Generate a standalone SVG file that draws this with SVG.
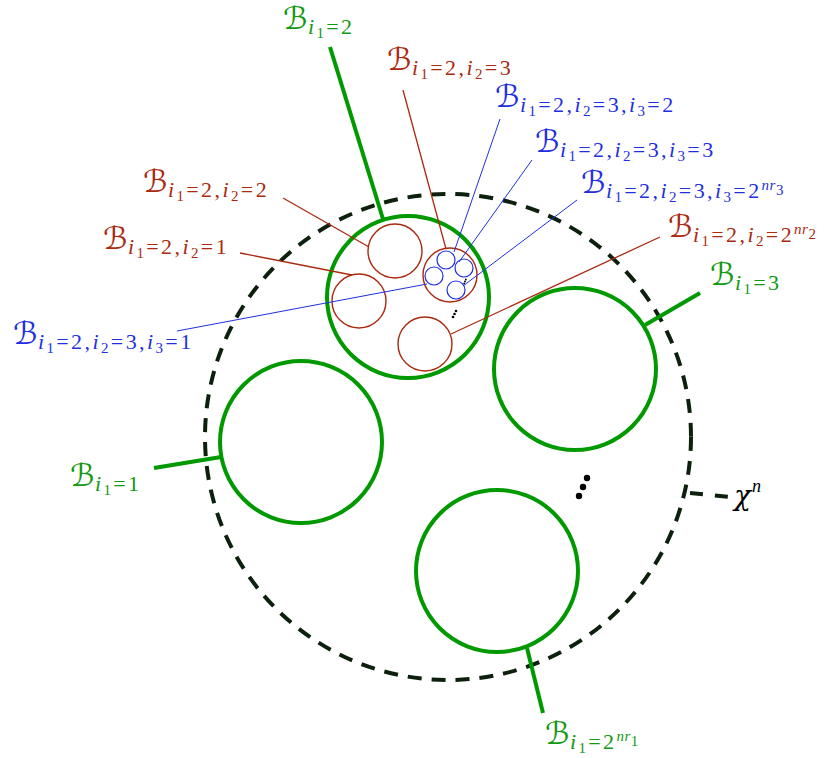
<svg xmlns="http://www.w3.org/2000/svg" width="839" height="758" viewBox="0 0 839 758">
<style>
.lab{font-family:"Liberation Serif","Times New Roman",serif;letter-spacing:2.4px}
.cal{font-family:"DejaVu Serif","DejaVu Sans",serif;font-size:31px;letter-spacing:0.5px}
.sb{font-size:22px;font-style:italic}
.sn{font-size:22px;font-style:normal}
.ss{font-size:15px;font-style:normal}
.sup{font-size:15px;font-style:italic;letter-spacing:0.5px}
.g{fill:#119911}.r{fill:#aa2a10}.b{fill:#1f2fe0}
.gc{fill:none;stroke:#009900;stroke-width:4}
.rc{fill:none;stroke:#aa2a10;stroke-width:1.4}
.bc{fill:none;stroke:#1f2fe0;stroke-width:1.2}
.gl{stroke:#009900;stroke-width:4;fill:none}
.rl{stroke:#aa2a10;stroke-width:1.3;fill:none}
.bl{stroke:#1f2fe0;stroke-width:1;fill:none}
.dash{fill:none;stroke:#0d200d;stroke-width:4;stroke-dasharray:14 10}
</style>
<g id="space">
<circle class="dash" cx="448" cy="437" r="243"/>
</g>
<g id="dots">
<circle cx="587" cy="478" r="3.2" fill="#000"/>
<circle cx="583" cy="487" r="3.2" fill="#000"/>
<circle cx="579" cy="496" r="3.2" fill="#000"/>
<circle cx="456" cy="311" r="1.3" fill="#000"/>
<circle cx="454.5" cy="314" r="1.3" fill="#000"/>
<circle cx="453" cy="317" r="1.3" fill="#000"/>
<circle cx="465.8" cy="279.5" r="0.9" fill="#000"/>
<circle cx="465" cy="281.5" r="0.9" fill="#000"/>
<circle cx="464.2" cy="283.5" r="0.9" fill="#000"/>
</g>
<g id="B1"><circle class="gc" cx="301" cy="442" r="81"/></g>
<g id="B2"><circle class="gc" cx="408" cy="297" r="81"/></g>
<g id="B3"><circle class="gc" cx="575" cy="369" r="81"/></g>
<g id="BN"><circle class="gc" cx="497" cy="571" r="81"/></g>
<g id="B21"><circle class="rc" cx="359" cy="301" r="27"/></g>
<g id="B22"><circle class="rc" cx="395" cy="251" r="27"/></g>
<g id="B23"><circle class="rc" cx="450" cy="275" r="27"/></g>
<g id="B2N"><circle class="rc" cx="425" cy="344" r="27"/></g>
<g id="B231"><circle class="bc" cx="434" cy="276" r="9"/></g>
<g id="B232"><circle class="bc" cx="446" cy="260" r="9"/></g>
<g id="B233"><circle class="bc" cx="464" cy="268" r="9"/></g>
<g id="B23N"><circle class="bc" cx="456" cy="290" r="9"/></g>
<g id="connectors">
<line class="gl" x1="330" y1="47" x2="383" y2="219"/>
<line class="gl" x1="700" y1="293" x2="645" y2="325"/>
<line class="gl" x1="154" y1="468" x2="221" y2="457"/>
<line class="gl" x1="543" y1="713" x2="527" y2="648"/>
<line class="rl" x1="403" y1="90" x2="446" y2="249"/>
<line class="rl" x1="283" y1="198" x2="369" y2="247"/>
<line class="rl" x1="240" y1="253" x2="352" y2="275"/>
<line class="rl" x1="660" y1="237" x2="451" y2="334"/>
<line class="bl" x1="500" y1="119" x2="454" y2="252"/>
<line class="bl" x1="532" y1="160" x2="459" y2="262"/>
<line class="bl" x1="577" y1="200" x2="463" y2="286"/>
<line class="bl" x1="177" y1="331" x2="427" y2="284"/>
<line x1="690" y1="493" x2="730" y2="497" fill="none" stroke="#0d200d" stroke-width="4" stroke-dasharray="13 12"/>
</g>
<g id="labels">
<text class="lab g" x="283" y="29"><tspan class="cal">ℬ</tspan><tspan class="sb" y="34">i</tspan><tspan class="ss" y="38">1</tspan><tspan class="sn" y="34">=2</tspan></text>
<text class="lab r" x="387" y="70"><tspan class="cal">ℬ</tspan><tspan class="sb" y="75">i</tspan><tspan class="ss" y="79">1</tspan><tspan class="sn" y="75">=2,</tspan><tspan class="sb" y="75">i</tspan><tspan class="ss" y="79">2</tspan><tspan class="sn" y="75">=3</tspan></text>
<text class="lab b" x="495" y="107"><tspan class="cal">ℬ</tspan><tspan class="sb" y="112">i</tspan><tspan class="ss" y="116">1</tspan><tspan class="sn" y="112">=2,</tspan><tspan class="sb" y="112">i</tspan><tspan class="ss" y="116">2</tspan><tspan class="sn" y="112">=3,</tspan><tspan class="sb" y="112">i</tspan><tspan class="ss" y="116">3</tspan><tspan class="sn" y="112">=2</tspan></text>
<text class="lab b" x="535" y="152"><tspan class="cal">ℬ</tspan><tspan class="sb" y="157">i</tspan><tspan class="ss" y="161">1</tspan><tspan class="sn" y="157">=2,</tspan><tspan class="sb" y="157">i</tspan><tspan class="ss" y="161">2</tspan><tspan class="sn" y="157">=3,</tspan><tspan class="sb" y="157">i</tspan><tspan class="ss" y="161">3</tspan><tspan class="sn" y="157">=3</tspan></text>
<text class="lab b" x="581" y="193"><tspan class="cal">ℬ</tspan><tspan class="sb" y="198">i</tspan><tspan class="ss" y="202">1</tspan><tspan class="sn" y="198">=2,</tspan><tspan class="sb" y="198">i</tspan><tspan class="ss" y="202">2</tspan><tspan class="sn" y="198">=3,</tspan><tspan class="sb" y="198">i</tspan><tspan class="ss" y="202">3</tspan><tspan class="sn" y="198">=2</tspan><tspan class="sup" y="190">nr</tspan><tspan class="ss" y="195">3</tspan></text>
<text class="lab r" x="668" y="237"><tspan class="cal">ℬ</tspan><tspan class="sb" y="242">i</tspan><tspan class="ss" y="246">1</tspan><tspan class="sn" y="242">=2,</tspan><tspan class="sb" y="242">i</tspan><tspan class="ss" y="246">2</tspan><tspan class="sn" y="242">=2</tspan><tspan class="sup" y="234">nr</tspan><tspan class="ss" y="239">2</tspan></text>
<text class="lab g" x="710" y="285"><tspan class="cal">ℬ</tspan><tspan class="sb" y="290">i</tspan><tspan class="ss" y="294">1</tspan><tspan class="sn" y="290">=3</tspan></text>
<text class="lab r" x="143" y="192"><tspan class="cal">ℬ</tspan><tspan class="sb" y="197">i</tspan><tspan class="ss" y="201">1</tspan><tspan class="sn" y="197">=2,</tspan><tspan class="sb" y="197">i</tspan><tspan class="ss" y="201">2</tspan><tspan class="sn" y="197">=2</tspan></text>
<text class="lab r" x="103" y="249"><tspan class="cal">ℬ</tspan><tspan class="sb" y="254">i</tspan><tspan class="ss" y="258">1</tspan><tspan class="sn" y="254">=2,</tspan><tspan class="sb" y="254">i</tspan><tspan class="ss" y="258">2</tspan><tspan class="sn" y="254">=1</tspan></text>
<text class="lab b" x="13" y="344"><tspan class="cal">ℬ</tspan><tspan class="sb" y="349">i</tspan><tspan class="ss" y="353">1</tspan><tspan class="sn" y="349">=2,</tspan><tspan class="sb" y="349">i</tspan><tspan class="ss" y="353">2</tspan><tspan class="sn" y="349">=3,</tspan><tspan class="sb" y="349">i</tspan><tspan class="ss" y="353">3</tspan><tspan class="sn" y="349">=1</tspan></text>
<text class="lab g" x="70" y="486"><tspan class="cal">ℬ</tspan><tspan class="sb" y="491">i</tspan><tspan class="ss" y="495">1</tspan><tspan class="sn" y="491">=1</tspan></text>
<text class="lab g" x="545" y="744"><tspan class="cal">ℬ</tspan><tspan class="sb" y="749">i</tspan><tspan class="ss" y="753">1</tspan><tspan class="sn" y="749">=2</tspan><tspan class="sup" y="741">nr</tspan><tspan class="ss" y="746">1</tspan></text>
<text x="734" y="505" font-family="DejaVu Serif, Liberation Serif, serif" font-style="italic" font-size="28" fill="#000">χ<tspan font-family="Liberation Serif, serif" font-size="18" y="492" dx="1">n</tspan></text>
</g>
</svg>
